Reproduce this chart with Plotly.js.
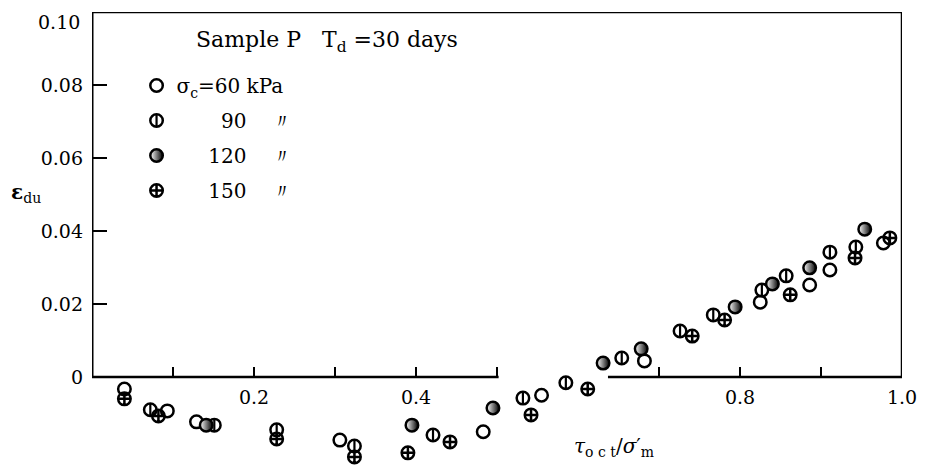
<!DOCTYPE html>
<html><head><meta charset="utf-8">
<script src="https://cdn.plot.ly/plotly-3.0.1.min.js"></script>
<style>html,body{margin:0;padding:0;background:#fff}#chart{width:929px;height:466px}</style>
</head><body><div id="chart"></div>
<script>
// sigma_c = 60 kPa (open circle)
const x60=[0.040,0.093,0.129,0.306,0.483,0.555,0.682,0.825,0.886,0.911,0.977];
const y60=[-0.0033,-0.0093,-0.0123,-0.0173,-0.0150,-0.0050,0.0044,0.0205,0.0252,0.0293,0.0367];
// 90 kPa (circle with vertical bar)
const x90=[0.072,0.151,0.228,0.324,0.421,0.532,0.585,0.654,0.726,0.767,0.827,0.857,0.911,0.943];
const y90=[-0.0090,-0.0132,-0.0145,-0.0189,-0.0159,-0.0058,-0.0016,0.0052,0.0126,0.0170,0.0238,0.0277,0.0342,0.0356];
// 120 kPa (half filled)
const x120=[0.141,0.395,0.495,0.631,0.678,0.794,0.840,0.886,0.954];
const y120=[-0.0132,-0.0132,-0.0085,0.0038,0.0077,0.0192,0.0255,0.0299,0.0405];
// 150 kPa
const x150=[0.040,0.082,0.228,0.324,0.390,0.442,0.542,0.612,0.741,0.781,0.862,0.942,0.985];
const y150=[-0.0060,-0.0107,-0.0170,-0.0219,-0.0208,-0.0178,-0.0104,-0.0033,0.0112,0.0156,0.0225,0.0326,0.0381];

const yTickVals=[0,0.02,0.04,0.06,0.08];
const yTickText=['0','0.02','0.04','0.06','0.08'];
const xTickVals=[0.2,0.4,0.8,1.0];
const xTickText=['0.2','0.4','0.8','1.0'];
const xMinorVals=[0.1,0.3,0.5,0.7,0.9];

const S='\u00a0';
const rep=n=>S.repeat(n);
const names=['σ<sub>c</sub>=60'+S+'kPa', rep(7)+'90'+rep(4)+'〃', rep(5)+'120'+rep(4)+'〃', rep(5)+'150'+rep(4)+'〃'];

const MS=12.5, LW=2.5;
const traces=[
 {x:x60,y:y60,name:names[0],mode:'markers',legendgroup:'a',cliponaxis:false,
  marker:{symbol:'circle-open',size:MS,color:'black',line:{color:'black',width:LW}}},
 {x:x90,y:y90,name:names[1],mode:'markers',legendgroup:'b',cliponaxis:false,
  marker:{symbol:'circle-open',size:MS,color:'black',line:{color:'black',width:LW}}},
 {x:x120,y:y120,name:names[2],mode:'markers',legendgroup:'c',cliponaxis:false,
  marker:{symbol:'circle',size:MS,color:'white',gradient:{type:'horizontal',color:'black'},line:{color:'black',width:LW}}},
 {x:x150,y:y150,name:names[3],mode:'markers',legendgroup:'d',cliponaxis:false,
  marker:{symbol:'circle-cross-open',size:MS,color:'black',line:{color:'black',width:LW}}},
 {x:x90,y:y90,name:S,mode:'markers',legend:'legend2',cliponaxis:false,hoverinfo:'skip',
  marker:{symbol:'line-ns-open',size:9,color:'black',line:{color:'black',width:2.2}}}
];

const LY=0.877;
const layout={
 width:929,height:466,margin:{l:92,r:27,t:12,b:0,pad:0},
 paper_bgcolor:'white',plot_bgcolor:'white',
 font:{family:'DejaVu Serif',size:18,color:'black'},
 showlegend:true,
 legend:{x:0.055,y:LY+0.004,xanchor:'left',yanchor:'top',bgcolor:'rgba(0,0,0,0)',font:{size:20},traceorder:'grouped',tracegroupgap:6,itemwidth:30},
 legend2:{x:0.055,y:LY+0.004-35/454,xanchor:'left',yanchor:'top',bgcolor:'rgba(0,0,0,0)',font:{size:20},itemwidth:30},
 xaxis:{range:[0,1],anchor:'free',position:0.0244/0.1244,showline:false,zeroline:false,showgrid:false,
  ticks:'inside',ticklen:10,tickwidth:2.5,tickcolor:'black',tickvals:xTickVals,ticktext:xTickText,ticklabelstandoff:7,tickfont:{size:19},
  minor:{ticks:'inside',ticklen:10,tickwidth:2.5,tickcolor:'black',tickvals:xMinorVals,showgrid:false}},
 yaxis:{range:[-0.0244,0.10],showline:false,zeroline:false,showgrid:false,
  ticks:'inside',ticklen:15,tickwidth:2.5,tickcolor:'black',tickvals:yTickVals,ticktext:yTickText,ticklabelstandoff:8,tickfont:{size:19}},
 shapes:[
  {type:'line',xref:'x',yref:'y',x0:0,x1:0,y0:0,y1:0.10,line:{color:'black',width:3}},
  {type:'line',xref:'x',yref:'y',x0:0,x1:1,y0:0.10,y1:0.10,line:{color:'black',width:2.5}},
  {type:'line',xref:'x',yref:'y',x0:1,x1:1,y0:0,y1:0.10,line:{color:'black',width:2.5}},
  {type:'line',xref:'x',yref:'y',x0:0,x1:0.502,y0:0,y1:0,line:{color:'black',width:2.5}},
  {type:'line',xref:'x',yref:'y',x0:0.637,x1:1,y0:0,y1:0,line:{color:'black',width:2.5}}
 ],
 annotations:[
  {text:'Sample'+S+'P'+rep(3)+'T<sub>d</sub>'+S+'=30'+S+'days',xref:'x',yref:'y',x:0.1255,y:0.0918,xanchor:'left',yanchor:'middle',showarrow:false,font:{size:22}},
  {text:'0.10',xref:'paper',yref:'y',x:0,xshift:-10,y:0.0973,xanchor:'right',yanchor:'middle',showarrow:false,font:{size:19}},
  {text:'<b>ε</b><sub>du</sub>',xref:'paper',yref:'y',x:-0.103,y:0.0504,xanchor:'left',yanchor:'middle',showarrow:false,font:{size:20}},
  {text:'<i>τ</i><sub>o'+S+'c'+S+'t</sub>/<i>σ</i>′<sub>m</sub>',xref:'x',yref:'y',x:0.645,y:-0.0192,xanchor:'center',yanchor:'middle',showarrow:false,font:{size:20}}
 ]
};
Plotly.newPlot('chart',traces,layout,{displayModeBar:false,staticPlot:true});
</script></body></html>
